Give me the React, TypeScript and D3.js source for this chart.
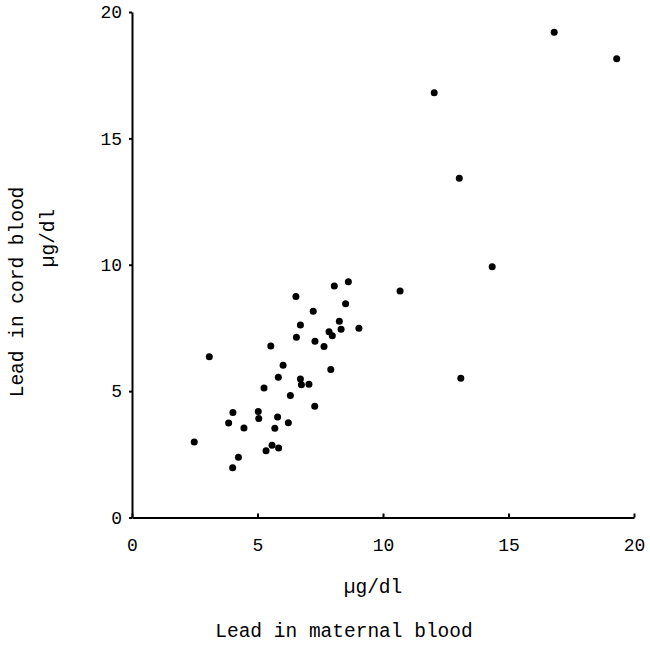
import React, { useEffect, useRef } from "react";
import * as d3 from "d3";

// Lead in maternal blood (µg/dl)
const maternal: number[] = [
  16.82, 19.31, 12.04, 13.04, 14.35, 10.68, 13.1,
  8.62, 8.06, 6.53, 8.51, 7.22, 8.26, 6.71, 7.85, 8.33, 7.98, 9.04, 6.55, 7.29, 7.65,
  5.53, 3.08, 6.02, 7.92, 5.83, 6.71, 6.75, 7.05, 5.26, 6.31, 7.28, 4.02, 5.03, 5.05,
  5.8, 3.85, 6.23, 4.46, 5.69, 2.48, 5.58, 5.84, 5.34, 4.24, 4.01,
];
// Lead in cord blood (µg/dl)
const cord: number[] = [
  19.2, 18.15, 16.81, 13.42, 9.92, 8.96, 5.51,
  9.33, 9.16, 8.74, 8.46, 8.16, 7.76, 7.62, 7.35, 7.45, 7.19, 7.49, 7.13, 6.97, 6.77,
  6.79, 6.36, 6.02, 5.86, 5.55, 5.48, 5.25, 5.27, 5.12, 4.83, 4.4, 4.15, 4.19, 3.92,
  3.98, 3.74, 3.75, 3.54, 3.53, 2.99, 2.86, 2.75, 2.64, 2.38, 1.97,
];
const xTicks: number[] = [0, 5, 10, 15, 20];
const yTicks: number[] = [0, 5, 10, 15, 20];

const FONT = "'Liberation Mono', 'DejaVu Sans Mono', monospace";
const TICK_FS = 18;
const TITLE_FS = 19.5;

export default function App() {
  const xAxisRef = useRef<SVGGElement>(null);
  const yAxisRef = useRef<SVGGElement>(null);

  const x = d3.scaleLinear().domain([0, 20]).range([132, 634]);
  const y = d3.scaleLinear().domain([0, 20]).range([517.5, 12]);

  useEffect(() => {
    if (xAxisRef.current) {
      const g = d3.select(xAxisRef.current);
      g.selectAll("*").remove();
      g.call(
        d3.axisBottom(x).tickValues(xTicks).tickSizeInner(-4).tickSizeOuter(0).tickPadding(17)
          .tickFormat((d) => String(d))
      );
      g.select(".domain").attr("stroke-width", 2).attr("stroke", "#000");
      g.selectAll(".tick line").attr("stroke-width", 2);
      g.selectAll(".tick text")
        .attr("font-family", FONT)
        .attr("font-size", TICK_FS)
        .attr("fill", "#000")
        .attr("dy", "0.9em");
    }
    if (yAxisRef.current) {
      const g = d3.select(yAxisRef.current);
      g.selectAll("*").remove();
      g.call(
        d3.axisLeft(y).tickValues(yTicks).tickSizeInner(3).tickSizeOuter(0).tickPadding(7)
          .tickFormat((d) => String(d))
      );
      g.select(".domain").attr("stroke-width", 2).attr("stroke", "#000");
      g.selectAll(".tick line").attr("stroke-width", 2);
      g.selectAll(".tick text")
        .attr("font-family", FONT)
        .attr("font-size", TICK_FS)
        .attr("fill", "#000");
    }
  });

  const pts = maternal.map((m, i) => ({ m, c: cord[i] }));

  return (
    <svg
      width={650}
      height={646}
      style={{ position: "absolute", left: 0, top: 0, background: "#fff" }}
    >
      <rect width={650} height={646} fill="#fff" />
      <g ref={xAxisRef} transform={`translate(0,${y(0)})`} />
      <g ref={yAxisRef} transform={`translate(${x(0)},0)`} />
      {pts.map((p, i) => (
        <circle key={i} cx={x(p.m)} cy={y(p.c)} r={3.5} fill="#000" />
      ))}
      <text
        x={373}
        y={588}
        textAnchor="middle"
        dominantBaseline="middle"
        fontFamily={FONT}
        fontSize={TITLE_FS}
        fill="#000"
      >
        µg/dl
      </text>
      <text
        x={344}
        y={632}
        textAnchor="middle"
        dominantBaseline="middle"
        fontFamily={FONT}
        fontSize={TITLE_FS}
        fill="#000"
      >
        Lead in maternal blood
      </text>
      <text
        transform="translate(18,292) rotate(-90)"
        textAnchor="middle"
        dominantBaseline="middle"
        fontFamily={FONT}
        fontSize={TITLE_FS}
        fill="#000"
      >
        Lead in cord blood
      </text>
      <text
        transform="translate(49,238) rotate(-90)"
        textAnchor="middle"
        dominantBaseline="middle"
        fontFamily={FONT}
        fontSize={TITLE_FS}
        fill="#000"
      >
        µg/dl
      </text>
    </svg>
  );
}
